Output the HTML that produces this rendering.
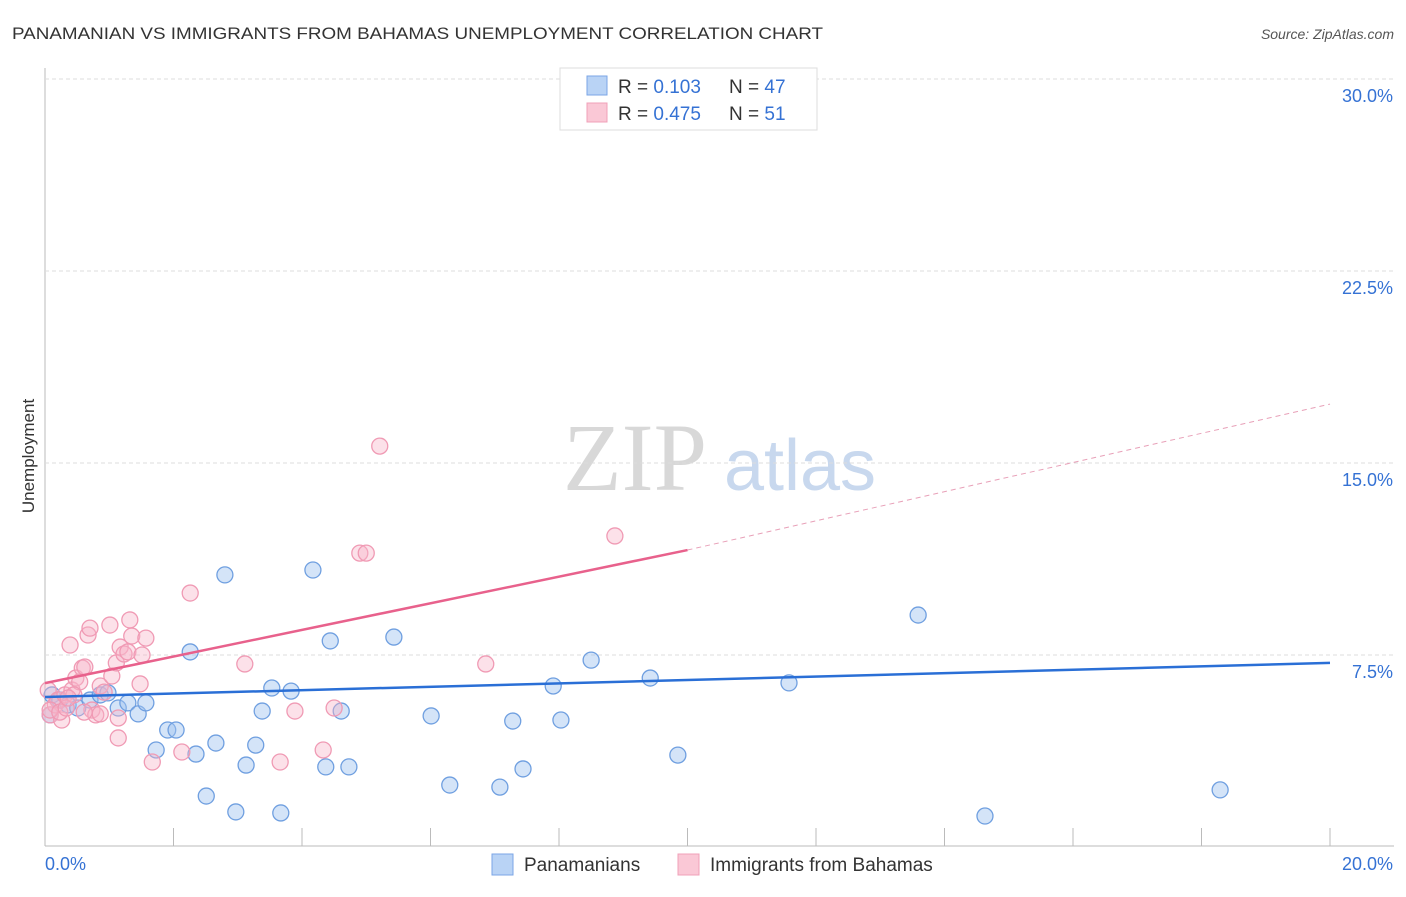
<!DOCTYPE html>
<html><head><meta charset="utf-8"><style>
body{margin:0;background:#fff;font-family:"Liberation Sans",sans-serif;}
svg text{font-family:"Liberation Sans",sans-serif;}
</style></head><body>
<svg id="chart" width="1406" height="892">
<text x="12" y="39" font-size="17" fill="#333" textLength="811" lengthAdjust="spacingAndGlyphs">PANAMANIAN VS IMMIGRANTS FROM BAHAMAS UNEMPLOYMENT CORRELATION CHART</text>
<text x="1394" y="39" font-size="14" fill="#555" font-style="italic" text-anchor="end">Source: ZipAtlas.com</text>
<text x="34" y="456" font-size="17" fill="#333" text-anchor="middle" transform="rotate(-90 34 456)">Unemployment</text>
<g><text x="635" y="490" font-size="96" fill="#d8d8d8" text-anchor="middle" style="font-family:'Liberation Serif',serif">ZIP</text><text x="800" y="490" font-size="72" fill="#c8d8ee" text-anchor="middle">atlas</text></g>
<g id="grid"></g><g id="marks"></g><g id="lines"></g>
<g>
<rect x="560" y="68" width="257" height="62" fill="#fff" stroke="#ddd"/>
<rect x="587" y="76" width="20" height="19" fill="#b9d3f5" stroke="#7ba6e6"/>
<rect x="587" y="103" width="20" height="19" fill="#fac8d6" stroke="#f0a0b8"/>
<text x="618" y="93" font-size="19" fill="#333">R = <tspan fill="#3572d4">0.103</tspan></text>
<text x="729" y="93" font-size="19" fill="#333">N = <tspan fill="#3572d4">47</tspan></text>
<text x="618" y="120" font-size="19" fill="#333">R = <tspan fill="#3572d4">0.475</tspan></text>
<text x="729" y="120" font-size="19" fill="#333">N = <tspan fill="#3572d4"> 51</tspan></text>
</g>
<g>
<rect x="492" y="854" width="21" height="21" fill="#b9d3f5" stroke="#7ba6e6"/>
<text x="524" y="871" font-size="19" fill="#333">Panamanians</text>
<rect x="678" y="854" width="21" height="21" fill="#fac8d6" stroke="#f0a0b8"/>
<text x="710" y="871" font-size="19" fill="#333">Immigrants from Bahamas</text>
</g>
</svg>
<script>
const xTicks=[0,2,4,6,8,10,12,14,16,18,20];
const yTicks=[7.5,15,22.5,30];
const yTickLabels=["7.5%","15.0%","22.5%","30.0%"];
const blueX=[0.11,0.23,0.36,0.51,0.70,0.86,0.98,1.14,1.29,1.45,1.57,1.73,1.91,2.04,2.26,2.35,2.51,2.66,2.80,2.97,3.13,3.28,3.38,3.53,3.67,3.83,4.17,4.37,4.44,4.61,4.73,5.43,6.01,6.30,7.08,7.28,7.44,7.91,8.03,8.50,9.42,9.85,11.58,13.59,14.63,18.29,0.08];
const blueY=[5.94,5.74,5.55,5.43,5.74,5.94,6.02,5.43,5.63,5.20,5.63,3.79,4.57,4.57,7.62,3.63,1.99,4.06,10.63,1.37,3.20,3.98,5.31,6.21,1.33,6.09,10.82,3.13,8.05,5.31,3.13,8.20,5.12,2.42,2.34,4.92,3.05,6.29,4.96,7.30,6.60,3.59,6.41,9.06,1.21,2.23,5.16];
const pinkX=[0.05,0.08,0.16,0.20,0.26,0.31,0.39,0.42,0.48,0.54,0.58,0.62,0.67,0.70,0.73,0.79,0.86,0.92,1.01,1.04,1.11,1.14,1.14,1.17,1.23,1.29,1.32,1.35,1.48,1.51,1.57,1.67,2.13,2.26,3.11,3.66,3.89,4.33,4.50,4.90,5.00,5.21,6.86,8.87,0.08,0.23,0.33,0.45,0.61,0.86,0.36];
const pinkY=[6.13,5.16,5.55,5.74,4.96,5.94,7.89,6.13,6.60,6.45,6.99,7.03,8.28,8.55,5.35,5.16,6.29,6.05,8.67,6.68,7.19,4.26,5.04,7.81,7.54,7.62,8.87,8.24,6.37,7.50,8.16,3.32,3.71,9.92,7.15,3.32,5.31,3.79,5.43,11.48,11.48,15.66,7.15,12.15,5.35,5.27,5.43,5.94,5.27,5.20,5.82];
const blueTrend=[5.86,7.19];
const pinkTrend=[6.4,11.6,17.3];
const X=v=>45+v*64.25, Y=v=>847-v*25.6;
const NS="http://www.w3.org/2000/svg";
function mk(tag,attrs,parent){const e=document.createElementNS(NS,tag);for(const k in attrs)e.setAttribute(k,attrs[k]);parent.appendChild(e);return e;}
const grid=document.getElementById('grid'),marks=document.getElementById('marks'),lines=document.getElementById('lines');
let ax=mk('line',{x1:45,y1:68,x2:45,y2:846,stroke:'#bbb'},grid);


let bx=mk('line',{x1:45,y1:846,x2:1394,y2:846,stroke:'#bbb'},grid);


yTicks.forEach((v,i)=>{
 let g=mk('line',{x1:45,y1:Y(v),x2:1394,y2:Y(v),stroke:'#ddd','stroke-dasharray':'4,3'},grid);
 
 
 let t=mk('text',{x:1393,y:Y(v)+23,'font-size':18,fill:'#3572d4','text-anchor':'end'},grid);t.textContent=yTickLabels[i];
 
 
});
xTicks.forEach(v=>{
 let t=mk('line',{x1:X(v),y1:828,x2:X(v),y2:846,stroke:'#bbb'},grid);
 
 
});
let l0=mk('text',{x:45,y:870,'font-size':18,fill:'#3572d4'},grid);l0.textContent='0.0%';


let l1=mk('text',{x:1393,y:870,'font-size':18,fill:'#3572d4','text-anchor':'end'},grid);l1.textContent='20.0%';


blueX.forEach((x,i)=>{
 let c=mk('circle',{cx:X(x),cy:Y(blueY[i]),r:8,fill:'rgba(160,196,240,0.45)',stroke:'#6f9fe0','stroke-width':1.3},marks);
 
 
});
pinkX.forEach((x,i)=>{
 let c=mk('circle',{cx:X(x),cy:Y(pinkY[i]),r:8,fill:'rgba(248,180,200,0.4)',stroke:'#f09ab4','stroke-width':1.3},marks);
 
 
});
let bl=mk('line',{x1:X(0),y1:Y(blueTrend[0]),x2:X(20),y2:Y(blueTrend[1]),stroke:'#2a6fd6','stroke-width':2.5},lines);


let pl=mk('line',{x1:X(0),y1:Y(pinkTrend[0]),x2:X(10),y2:Y(pinkTrend[1]),stroke:'#e8618c','stroke-width':2.5},lines);


let pd=mk('line',{x1:X(10),y1:Y(pinkTrend[1]),x2:X(20),y2:Y(pinkTrend[2]),stroke:'#e8a0b8','stroke-width':1,'stroke-dasharray':'5,4'},lines);


</script>
</body></html>
